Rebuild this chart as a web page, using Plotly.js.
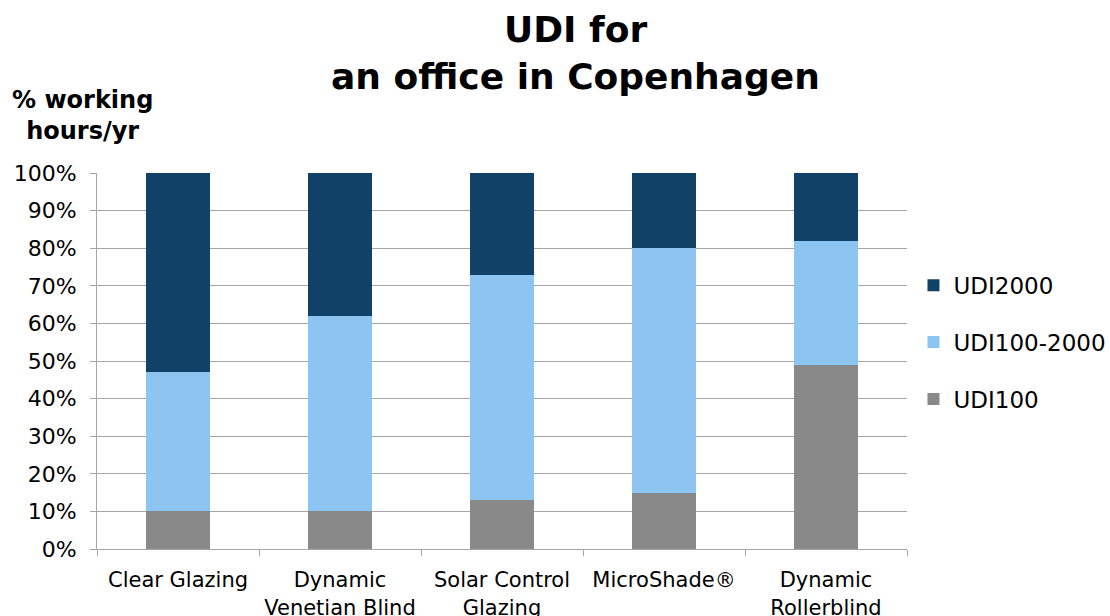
<!DOCTYPE html>
<html>
<head>
<meta charset="utf-8">
<script src="https://cdn.plot.ly/plotly-3.0.1.min.js"></script>
<style>html,body{margin:0;padding:0;background:#fff;}#chart{width:1110px;height:616px;}</style>
</head>
<body>
<div id="chart"></div>
<script>
const categories = ["Clear Glazing", "Dynamic<br>Venetian Blind", "Solar Control<br>Glazing", "MicroShade®", "Dynamic<br>Rollerblind"];
const udi100 = [10, 10, 13, 15, 49];
const udi100_2000 = [37, 52, 60, 65, 33];
const udi2000 = [53, 38, 27, 20, 18];
const seriesNames = ["UDI100", "UDI100-2000", "UDI2000"];
const seriesColors = ["#898989", "#8DC5F2", "#124168"];
const legendRanks = [3, 2, 1];
const yTickVals = [0, 10, 20, 30, 40, 50, 60, 70, 80, 90, 100];
const yTickText = ["0%", "10%", "20%", "30%", "40%", "50%", "60%", "70%", "80%", "90%", "100%"];

const seriesData = [udi100, udi100_2000, udi2000];
const traces = seriesData.map((vals, i) => ({
  type: "bar",
  name: seriesNames[i],
  x: categories,
  y: vals,
  legendgroup: "g" + i,
  legendrank: legendRanks[i],
  marker: {color: seriesColors[i], line: {width: 0}},
  hoverinfo: "skip"
}));

const font = "DejaVu Sans, Verdana, sans-serif";
const layout = {
  width: 1110, height: 616,
  margin: {l: 97, r: 203, t: 173, b: 67, autoexpand: false},
  paper_bgcolor: "#fff", plot_bgcolor: "#fff",
  barmode: "stack",
  bargap: 0.6,
  font: {family: font, color: "#000", size: 19},
  xaxis: {
    type: "category",
    showgrid: false,
    showline: true, linecolor: "#a6a6a6", linewidth: 1,
    ticks: "outside", tickson: "boundaries", ticklen: 6, tickcolor: "#a6a6a6",
    tickfont: {family: font, size: 21, color: "#000"},
    tickangle: 0,
    ticklabelstandoff: 12,
    fixedrange: true
  },
  yaxis: {
    range: [0, 100],
    tickvals: yTickVals, ticktext: yTickText,
    showgrid: true, gridcolor: "#a6a6a6", gridwidth: 1,
    showline: true, linecolor: "#a6a6a6", linewidth: 1,
    ticks: "outside", ticklen: 6, tickcolor: "#a6a6a6",
    tickfont: {family: font, size: 22, color: "#000"},
    ticklabelstandoff: 9,
    zeroline: false,
    fixedrange: true
  },
  legend: {
    x: 1.008, xanchor: "left", y: 0.55, yanchor: "middle",
    traceorder: "grouped",
    tracegroupgap: 24,
    font: {family: font, size: 23, color: "#000"},
    itemwidth: 30
  },
  annotations: [
    {
      text: "<b>UDI for</b>",
      xref: "paper", yref: "paper", x: 0.591, y: 1.382, xanchor: "center", yanchor: "middle",
      showarrow: false, font: {family: font, size: 36, color: "#000"}
    },
    {
      text: "<b>an office in Copenhagen</b>",
      xref: "paper", yref: "paper", x: 0.591, y: 1.257, xanchor: "center", yanchor: "middle",
      showarrow: false, font: {family: font, size: 36, color: "#000"}
    },
    {
      text: "<b>% working<br>hours/yr</b>",
      xref: "paper", yref: "paper", x: -0.0185, y: 1.07, xanchor: "center", yanchor: "bottom",
      showarrow: false, align: "center",
      font: {family: font, size: 24, color: "#000"}
    }
  ]
};

Plotly.newPlot("chart", traces, layout, {displayModeBar: false, staticPlot: true});
</script>
</body>
</html>
